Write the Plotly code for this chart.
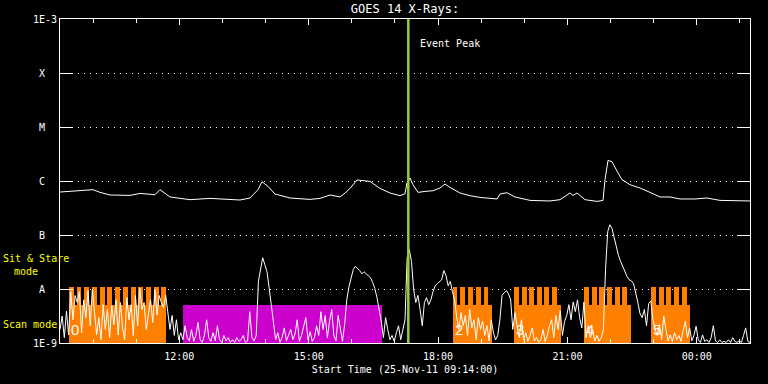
import pandas as pd
import plotly.graph_objects as go

START = pd.Timestamp("2011-11-25 09:14:00")
END = pd.Timestamp("2011-11-26 01:14:00")
EVENT_PEAK = pd.Timestamp("2011-11-25 17:18:36")

# GOES 1-8 A channel: minutes after start, log10(flux W/m^2)
long_minutes = [0, 25.0, 45.9, 55.7, 69.6, 97.4, 111.3, 132.2, 139.1, 153.0, 180.9, 208.7,
                236.5, 250.4, 264.3, 275.5, 281.0, 289.4, 299.1, 320.0, 347.8, 361.7, 375.7,
                389.6, 396.6, 403.5, 413.2, 424.3, 431.3, 445.2, 459.1, 473.0, 480.0, 482.8,
                487.0, 491.1, 498.1, 507.8, 519.0, 528.7, 535.7, 542.6, 556.5, 570.4, 584.4,
                608.0, 612.2, 621.9, 633.0, 653.9, 681.7, 695.7, 709.6, 713.7, 719.3, 730.5,
                747.2, 755.5, 758.3, 762.4, 768.0, 776.4, 781.9, 793.1, 807.0, 820.9, 834.8,
                848.7, 862.6, 883.5, 900.2, 918.3, 939.1, 960.0]
long_log10 = [-6.204, -6.174, -6.161, -6.211, -6.259, -6.267, -6.230, -6.254, -6.161, -6.296,
              -6.346, -6.322, -6.333, -6.352, -6.315, -6.161, -6.013, -6.100, -6.241, -6.315,
              -6.341, -6.322, -6.259, -6.296, -6.222, -6.137, -5.981, -5.989, -6.007, -6.137,
              -6.222, -6.272, -6.235, -6.037, -5.944, -6.069, -6.211, -6.193, -6.180, -6.130,
              -6.056, -6.119, -6.222, -6.272, -6.304, -6.333, -6.241, -6.217, -6.296, -6.359,
              -6.370, -6.346, -6.222, -6.267, -6.222, -6.346, -6.378, -6.359, -5.976, -5.619,
              -5.643, -5.852, -5.976, -6.069, -6.130, -6.211, -6.296, -6.296, -6.333, -6.333,
              -6.315, -6.359, -6.365, -6.370]

# GOES 0.5-4 A channel, sampled every 3 minutes from start: log10(flux W/m^2)
short_step = "3min"
short_log10 = [
    -8.75, -8.50, -8.90, -8.41, -8.85,
    -8.05, -8.57, -8.12, -8.25, -8.05, -8.81, -8.20, -8.53, -8.03, -8.68, -8.01, -8.42, -8.85,
    -8.53, -8.94, -8.29, -8.75, -8.38, -8.90, -8.31, -8.66, -8.20, -8.85, -8.25, -8.72, -8.94,
    -8.16, -8.57, -8.29, -8.86, -8.12, -8.68, -7.98, -8.38, -8.25, -8.75, -8.44, -8.20, -8.62,
    -8.01, -8.48, -8.12, -8.25, -8.35, -8.11,
    -8.44, -8.75, -8.49, -8.86, -8.57, -8.94, -8.81, -8.94,
    -8.68, -8.90, -8.96, -8.75, -8.97, -8.86, -8.62, -8.94, -8.99, -8.85, -8.57, -8.90, -8.97,
    -8.81, -8.96, -8.68, -8.94, -8.99, -8.86, -8.96, -8.90, -8.99, -8.94, -8.99, -8.90, -8.97,
    -8.94, -8.86, -8.99, -8.96, -8.42, -8.90, -8.96,
    -8.86, -7.86, -7.60, -7.42, -7.55, -7.68, -7.98, -8.31, -8.53, -8.94, -8.81, -8.99, -8.90,
    -8.72, -8.96, -8.86,
    -8.75, -8.94, -8.83, -8.57, -8.97, -8.86, -8.66, -8.53, -8.94, -8.79, -8.97, -8.90, -8.68,
    -8.86, -8.42, -8.75, -8.49, -8.90, -8.60, -8.38, -8.86, -8.96, -8.49, -8.75, -8.97, -8.66,
    -8.20, -7.96, -7.77, -7.64, -7.58, -7.62, -7.66, -7.72, -7.68, -7.72, -7.75, -7.79, -7.88,
    -7.99, -8.16, -8.35, -8.60, -8.90,
    -8.53, -8.75, -8.94, -8.86, -8.97, -8.81, -8.68, -8.94, -8.75, -8.57,
    -7.42, -7.27, -7.49, -8.01, -8.25, -8.12, -8.38, -8.68, -8.25, -8.16, -8.29, -8.20, -8.05,
    -7.94, -7.90, -7.86, -7.83, -7.66, -7.75, -7.94, -7.86, -8.05, -8.20,
    -8.53, -8.75, -8.44, -8.68, -8.49, -8.86, -8.38, -8.72, -8.57, -8.94, -8.53, -8.75, -8.60,
    -8.86, -8.68, -8.96, -8.57,
    -8.81, -8.94, -8.86, -8.57, -8.12, -8.07, -8.03, -8.09, -8.20, -8.75,
    -8.44, -8.68, -8.90, -8.57, -8.94, -8.81, -8.97, -8.86, -8.72, -8.96, -8.90, -8.99, -8.94,
    -8.75, -8.97, -8.86, -8.68, -8.57, -8.90, -8.49, -8.75, -8.40,
    -8.86, -8.60, -8.49, -8.29, -8.57, -8.24, -8.42, -8.20, -8.53, -8.72, -8.24, -8.90,
    -8.68, -8.90, -8.75, -8.96, -8.86, -8.97, -8.90, -8.75,
    -7.64, -6.94, -6.81, -6.88, -7.05, -7.25, -7.38, -7.49, -7.59, -7.68, -7.77, -7.83, -7.85,
    -7.90, -8.05, -8.25, -8.46, -8.53, -8.38, -8.68, -8.27, -8.22, -8.57,
    -8.75, -8.86, -8.66, -8.94, -8.50, -8.75, -8.96, -8.85, -8.97, -8.81, -8.94, -8.86, -8.97,
    -8.77, -8.60, -8.90, -8.72, -8.96,
    -8.86, -8.69, -8.94, -8.99, -8.85, -8.97, -8.94, -8.99, -8.90, -8.68, -8.96, -8.99, -8.94,
    -8.99, -8.97, -8.99, -8.94, -8.99, -8.90, -8.97, -8.99, -8.96, -8.99, -8.86, -8.72, -8.97,
    -8.99, -8.96,
]

# Observation modes (minutes after start)
scan_blocks = [(12.5, 147.1), (546.4, 601.0), (631.6, 696.6), (729.0, 794.4), (822.3, 876.5)]
scan_labels = ["0", "2", "3", "4", "5"]
stare_teeth = [
    (12.5, 19.1), (23.7, 29.6), (33.4, 40.8), (44.5, 51.5), (55.2, 62.2), (65.8, 72.8),
    (76.5, 83.9), (87.2, 94.6), (98.4, 105.3), (108.9, 115.9), (119.7, 126.6), (130.4, 137.3),
    (140.9, 147.1),
    (546.4, 553.0), (557.2, 563.9), (568.1, 574.6), (578.8, 585.3), (589.5, 595.9),
    (631.6, 638.6), (642.4, 649.3), (652.5, 659.5), (663.2, 670.2), (673.8, 680.8), (684.5, 691.1),
    (729.0, 736.0), (739.8, 746.7), (750.3, 757.3), (761.0, 768.0), (771.8, 778.7), (782.3, 789.3),
    (822.3, 829.2), (833.0, 840.0), (843.6, 850.5), (854.3, 861.2), (865.0, 871.9),
]
sit_stare_blocks = [(171.1, 447.6)]
scan_level = 4.14e-9
stare_level = 1e-8

ytick_vals = [1e-9, 1e-8, 1e-7, 1e-6, 1e-5, 1e-4, 1e-3]
ytick_text = ["1E-9", "A", "B", "C", "M", "X", "1E-3"]

ORANGE = "#ff8000"
MAGENTA = "#cc00cc"
GREEN = "#9acd32"
YELLOW = "#ffff00"
MONO = "DejaVu Sans Mono"


def to_time(m):
    return START + pd.Timedelta(minutes=m)


def bar_trace(intervals, level, color):
    centers = [to_time((a + b) / 2) for a, b in intervals]
    widths = [(b - a) * 60000 for a, b in intervals]
    return go.Bar(x=centers, y=[level] * len(intervals), width=widths, base=1e-9,
                  marker=dict(color=color, line=dict(width=0)), showlegend=False,
                  hoverinfo="skip")


fig = go.Figure()
fig.add_trace(bar_trace(scan_blocks, scan_level, ORANGE))
fig.add_trace(bar_trace(stare_teeth, stare_level, ORANGE))
fig.add_trace(bar_trace(sit_stare_blocks, scan_level, MAGENTA))

long_t = [to_time(m) for m in long_minutes]
fig.add_trace(go.Scatter(x=long_t, y=[10 ** v for v in long_log10], mode="lines",
                         line=dict(color="white", width=1), showlegend=False))
short_t = pd.date_range(START, periods=len(short_log10), freq=short_step)
fig.add_trace(go.Scatter(x=short_t, y=[10 ** v for v in short_log10], mode="lines",
                         line=dict(color="white", width=1), showlegend=False))

fig.add_shape(type="line", xref="x", yref="paper", x0=EVENT_PEAK, x1=EVENT_PEAK, y0=0, y1=1,
              line=dict(color=GREEN, width=2.5), layer="above")

annotations = [
    dict(text="Event Peak", xref="x", yref="paper", x=EVENT_PEAK, y=(343 - 43) / 324,
         xanchor="left", yanchor="middle", xshift=10, showarrow=False,
         font=dict(color="white", size=10, family=MONO)),
    dict(text="Sit & Stare", xref="paper", yref="paper", x=-59 / 690, y=(343 - 258.5) / 324,
         xanchor="left", yanchor="middle", showarrow=False,
         font=dict(color=YELLOW, size=10, family=MONO)),
    dict(text="mode", xref="paper", yref="paper", x=-48 / 690, y=(343 - 271.5) / 324,
         xanchor="left", yanchor="middle", showarrow=False,
         font=dict(color=YELLOW, size=10, family=MONO)),
    dict(text="Scan mode", xref="paper", yref="paper", x=-59 / 690, y=(343 - 324) / 324,
         xanchor="left", yanchor="middle", showarrow=False,
         font=dict(color=YELLOW, size=10, family=MONO)),
]
for (a, b), lab in zip(scan_blocks, scan_labels):
    annotations.append(dict(text=lab, xref="x", yref="paper", x=to_time(a), y=0.01,
                            xanchor="left", yanchor="bottom", xshift=0, showarrow=False,
                            font=dict(color="white", size=15, family="Liberation Sans")))

fig.update_layout(
    width=768, height=384,
    margin=dict(l=60, r=18, t=19, b=41),
    paper_bgcolor="black", plot_bgcolor="black",
    barmode="overlay", bargap=0,
    font=dict(family=MONO, color="white", size=10),
    title=dict(text="GOES 14 X-Rays:", x=0.5, xref="paper", xanchor="center",
               y=1 - 9 / 384, yref="container", yanchor="middle",
               font=dict(size=12, color="white", family=MONO)),
    annotations=annotations,
    xaxis=dict(type="date", range=[START, END], showgrid=False, zeroline=False,
               showline=True, linecolor="white", linewidth=1, mirror="ticks",
               ticks="inside", ticklen=6, tickcolor="white", tickwidth=1,
               tick0="2011-11-25 00:00", dtick=3 * 3600000, tickformat="%H:%M",
               ticklabelstandoff=4,
               tickfont=dict(size=10, family=MONO, color="white"),
               minor=dict(dtick=3600000, ticks="inside", ticklen=4, tickcolor="white",
                          showgrid=False),
               title=dict(text="Start Time (25-Nov-11 09:14:00)", standoff=4,
                          font=dict(size=10, family=MONO, color="white"))),
    yaxis=dict(type="log", range=[-9, -3], showgrid=True, gridcolor="white", gridwidth=1,
               griddash="1px,5px", zeroline=False,
               showline=True, linecolor="white", linewidth=1, mirror="ticks",
               ticks="inside", ticklen=13, tickcolor="white", tickwidth=1,
               tickvals=ytick_vals,
               ticktext=[t if len(t) > 1 else t + "\u00a0\u2002" for t in ytick_text],
               tickfont=dict(size=10, family=MONO, color="white")),
)

fig.write_html("out.html")
